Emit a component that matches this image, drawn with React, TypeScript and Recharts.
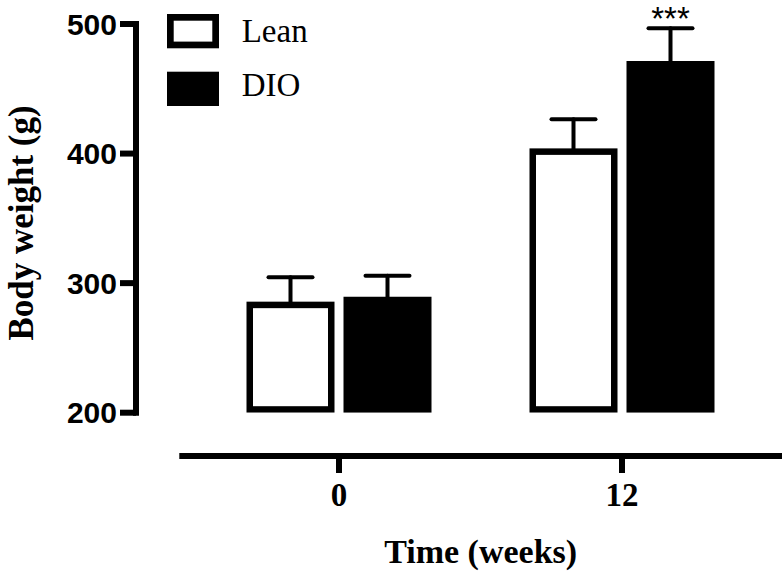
import React from 'react';
import * as R from 'recharts';

const { BarChart, Bar, XAxis, YAxis, ErrorBar, Legend, LabelList } = R as any;

// ---- data ----
const seriesNames = ['Lean', 'DIO'];
const timeLabels = ['0', '12'];
const leanMeans = [285.7, 404.0];
const leanErrors = [18.8, 22.4];
const dioMeans = [289.5, 471.4];
const dioErrors = [16.2, 25.3];
const significance = ['', '***'];
const yTicks = [200, 300, 400, 500];

// style constants
const SERIF = '"Liberation Serif", "Times New Roman", Times, serif';
const SANS = '"Liberation Sans", Arial, Helvetica, sans-serif';
const AXIS_GAP = 43.3; // offset between plot edge and the detached axis
const CAP_INSET = 2.3; // lower end of the error bar hidden inside the bar top border

const data = timeLabels.map((t, i) => ({
  time: t,
  lean: leanMeans[i],
  leanErr: [CAP_INSET, leanErrors[i]],
  dio: dioMeans[i],
  dioErr: [CAP_INSET, dioErrors[i]],
  sig: significance[i],
}));

const usePlotAreaSafe: () => any = (R as any).usePlotArea || (() => null);

function OffsetXAxis() {
  const area = usePlotAreaSafe();
  if (!area) return null;
  const left = area.x + AXIS_GAP;
  const right = area.x + area.width;
  const y = area.y + area.height + AXIS_GAP;
  return (
    <g>
      <line x1={left} x2={right} y1={y} y2={y} stroke="#000" strokeWidth={6} />
      <text
        x={(left + right) / 2}
        y={y + 106.7}
        textAnchor="middle"
        fontFamily={SERIF}
        fontWeight="bold"
        fontSize={34}
        fill="#000"
      >
        Time (weeks)
      </text>
    </g>
  );
}

function XTick(props: any) {
  const { x, y, payload } = props;
  const lineY = y + AXIS_GAP;
  return (
    <g>
      <line x1={x} x2={x} y1={lineY} y2={lineY + 17} stroke="#000" strokeWidth={6} />
      <text x={x} y={lineY + 50} textAnchor="middle" fontFamily={SERIF} fontWeight="bold" fontSize={33} fill="#000">
        {payload.value}
      </text>
    </g>
  );
}

function YLabel(props: any) {
  const vb = props.viewBox || { x: 0, y: 24, width: 136, height: 388.7 };
  const cx = vb.x + 33.5;
  const cy = vb.y + vb.height / 2 + 4.6;
  return (
    <text
      x={cx}
      y={cy}
      transform={`rotate(-90, ${cx}, ${cy})`}
      textAnchor="middle"
      fontFamily={SERIF}
      fontWeight="bold"
      fontSize={35}
      fill="#000"
    >
      Body weight (g)
    </text>
  );
}

function OpenBar(props: any) {
  const { x, y, width, height } = props;
  const sw = 6.5;
  if (height <= 0) return null;
  return (
    <rect
      x={x + sw / 2}
      y={y + sw / 2}
      width={width - sw}
      height={height - sw}
      fill="#fff"
      stroke="#000"
      strokeWidth={sw}
    />
  );
}

function SigLabel(props: any) {
  const { x, y, width, value } = props;
  if (!value) return null;
  return (
    <text x={x + width / 2} y={y - 31} textAnchor="middle" fontFamily={SANS} fontSize={33} fill="#000">
      {value}
    </text>
  );
}

function LegendContent(props: any) {
  const payload = [...(props.payload || [])].sort(
    (a: any, b: any) => seriesNames.indexOf(a.value) - seriesNames.indexOf(b.value)
  );
  return (
    <svg width={320} height={115} style={{ display: 'block' }}>
      {payload.map((entry: any, i: number) => {
        const top = 14 + i * 57.7;
        const open = entry.value === seriesNames[0];
        const sw = 6.7;
        return (
          <g key={entry.value}>
            {open ? (
              <rect x={167 + sw / 2} y={top + sw / 2} width={52 - sw} height={34.3 - sw} fill="#fff" stroke="#000" strokeWidth={sw} />
            ) : (
              <rect x={167} y={top} width={52} height={34.3} fill="#000" />
            )}
            <text x={241.7} y={41.7 + i * 54.5} fontFamily={SERIF} fontSize={33} fill="#000">
              {entry.value}
            </text>
          </g>
        );
      })}
    </svg>
  );
}

export default function App() {
  return (
    <div style={{ position: 'fixed', left: 0, top: 0, width: 784, height: 574, background: '#fff' }}>
      <BarChart
        width={784}
        height={574}
        data={data}
        margin={{ top: 24, right: 2, bottom: 0, left: 0 }}
        barSize={88}
        barGap={9}
      >
        <XAxis
          dataKey="time"
          padding={{ left: 61.5, right: 18.5 }}
          axisLine={false}
          tickLine={false}
          tickSize={0}
          tickMargin={0}
          height={161.3}
          interval={0}
          tick={<XTick />}
        />
        <YAxis
          domain={[200, 500]}
          ticks={yTicks}
          allowDataOverflow
          width={136}
          interval={0}
          axisLine={{ stroke: '#000', strokeWidth: 6, strokeLinecap: 'square' }}
          tickLine={{ stroke: '#000', strokeWidth: 6 }}
          tickSize={16}
          tickMargin={3}
          tick={{ fontFamily: SANS, fontWeight: 'bold', fontSize: 30, fill: '#000', stroke: 'none' }}
          label={YLabel}
        />
        <Legend
          layout="horizontal"
          verticalAlign="middle"
          align="center"
          content={LegendContent}
          wrapperStyle={{ position: 'absolute', left: 0, top: 0, width: 320, height: 115 }}
        />
        <Bar dataKey="lean" name={seriesNames[0]} fill="#fff" stroke="#000" shape={OpenBar} isAnimationActive={false}>
          <ErrorBar dataKey="leanErr" width={22} stroke="#000" strokeWidth={4} strokeLinecap="round" isAnimationActive={false} />
        </Bar>
        <Bar dataKey="dio" name={seriesNames[1]} fill="#000" isAnimationActive={false}>
          <ErrorBar dataKey="dioErr" width={22} stroke="#000" strokeWidth={4} strokeLinecap="round" isAnimationActive={false} />
          <LabelList dataKey="sig" content={SigLabel} />
        </Bar>
        <OffsetXAxis />
      </BarChart>
    </div>
  );
}
